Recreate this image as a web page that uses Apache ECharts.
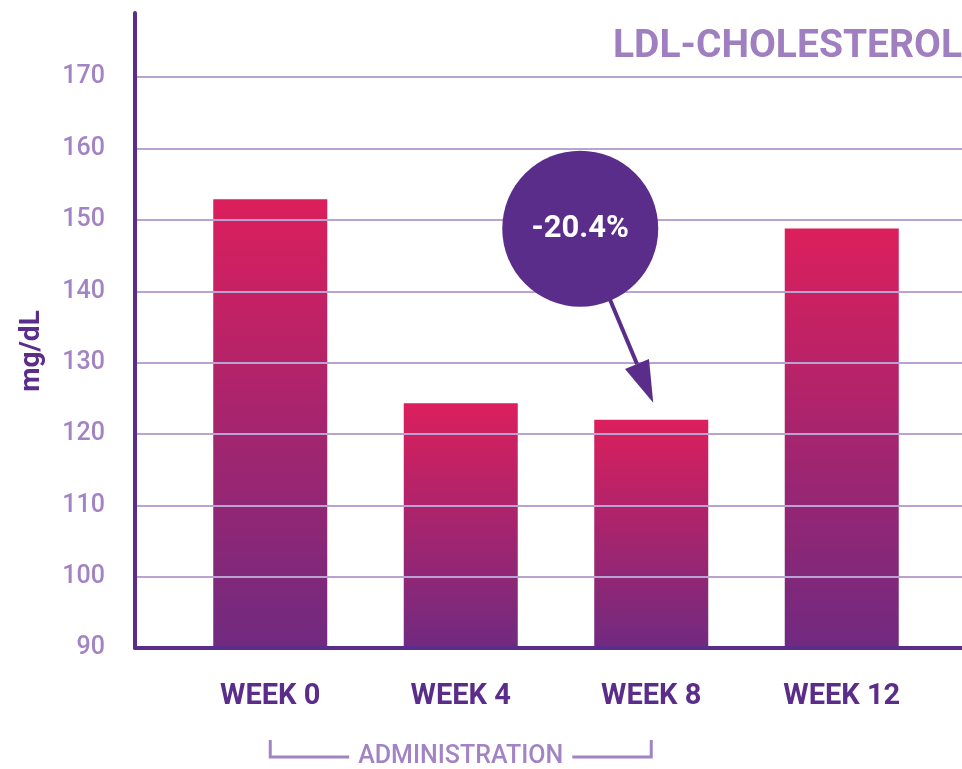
<!DOCTYPE html>
<html>
<head>
<meta charset="utf-8">
<script src="https://cdn.jsdelivr.net/npm/echarts@6.0.0/dist/echarts.min.js"></script>
<style>
  html, body { margin: 0; padding: 0; background: #fff; }
  #chart { width: 962px; height: 769px; }
</style>
</head>
<body>
<div id="chart"></div>
<script>
  // data
  var categories = ['WEEK 0', 'WEEK 4', 'WEEK 8', 'WEEK 12']
  var ldlValues = [152.9, 124.3, 122.0, 148.8]
  var yMin = 90
  var yMax = 179
  var yStep = 10
  var yName = 'mg/dL'
  var calloutText = '-20.4%'
  var calloutBar = 2
  var bracketText = 'ADMINISTRATION'
  var bracketRange = [0, 2]

  var dark = '#5b2d8a'
  var light = '#a283c3'
  var font = 'Roboto, "DejaVu Sans", sans-serif'

  var chart = echarts.init(document.getElementById('chart'))

  var option = {
    animation: false,
    title: {
      text: 'LDL-CHOLESTEROL',
      right: -5,
      top: 23,
      textStyle: {
        color: '#a07fc0',
        fontSize: 39,
        fontWeight: 'bold',
        fontFamily: font,
        letterSpacing: 0.8
      }
    },
    grid: [
      { left: 135, right: 0, top: 13, bottom: 121 },
      { left: 175, right: 25, top: 13, bottom: 121 }
    ],
    xAxis: [
      {
        gridIndex: 0,
        type: 'value',
        min: 0,
        max: 1,
        z: 5,
        axisLine: { show: true, lineStyle: { color: dark, width: 4, cap: 'round' } },
        axisTick: { show: false },
        axisLabel: { show: false },
        splitLine: { show: false }
      },
      {
        gridIndex: 1,
        type: 'category',
        data: categories,
        axisLine: { show: false },
        axisTick: { show: false },
        axisLabel: {
          margin: 34,
          color: dark,
          fontSize: 29,
          fontWeight: 'bold',
          fontFamily: font,
          letterSpacing: 1.5
        }
      }
    ],
    yAxis: [
      {
        gridIndex: 0,
        type: 'value',
        min: yMin,
        max: yMax,
        interval: yStep,
        z: 5,
        axisLine: { show: true, lineStyle: { color: dark, width: 4, cap: 'round' } },
        axisTick: { show: false },
        axisLabel: {
          margin: 30,
          color: light,
          fontSize: 25,
          fontWeight: 500,
          fontFamily: font,
          showMaxLabel: false
        },
        splitLine: {
          show: true,
          showMinLine: false,
          showMaxLine: false,
          lineStyle: { color: '#b9a3d2', width: 2 }
        }
      },
      {
        gridIndex: 1,
        type: 'value',
        min: yMin,
        max: yMax,
        show: false,
        splitLine: { show: false }
      }
    ],
    series: [
      {
        type: 'bar',
        xAxisIndex: 1,
        yAxisIndex: 1,
        barWidth: 114,
        data: ldlValues,
        itemStyle: {
          color: new echarts.graphic.LinearGradient(0, 0, 0, 1, [
            { offset: 0, color: '#dc1f5c' },
            { offset: 1, color: '#702a80' }
          ])
        }
      }
    ]
  }

  chart.setOption(option)

  // callout + bracket placed from the bar positions
  var tipBar = chart.convertToPixel({ gridIndex: 1 }, [categories[calloutBar], ldlValues[calloutBar]])
  var tip = [tipBar[0] + 2, tipBar[1] - 17]
  var center = [tip[0] - 73, tip[1] - 174]
  var dx = tip[0] - center[0]
  var dy = tip[1] - center[1]
  var len = Math.sqrt(dx * dx + dy * dy)
  var ux = dx / len, uy = dy / len
  var nx = uy, ny = -ux
  var base = [tip[0] - 42 * ux, tip[1] - 42 * uy]

  var left = chart.convertToPixel({ gridIndex: 1 }, [categories[bracketRange[0]], yMin])
  var right = chart.convertToPixel({ gridIndex: 1 }, [categories[bracketRange[1]], yMin])
  var by = left[1] + 109

  chart.setOption({
    graphic: [
      {
        type: 'text',
        x: 32,
        y: 351,
        rotation: Math.PI / 2,
        style: {
          text: yName,
          fill: dark,
          fontSize: 28,
          fontWeight: 'bold',
          fontFamily: font,
          align: 'center',
          verticalAlign: 'middle',
          letterSpacing: 1
        }
      },
      {
        type: 'line',
        z: 10,
        shape: { x1: center[0], y1: center[1], x2: base[0], y2: base[1] },
        style: { stroke: dark, lineWidth: 4 }
      },
      {
        type: 'polygon',
        z: 10,
        shape: {
          points: [
            tip,
            [base[0] + 13 * nx, base[1] + 13 * ny],
            [base[0] - 13 * nx, base[1] - 13 * ny]
          ]
        },
        style: { fill: dark }
      },
      {
        type: 'circle',
        z: 11,
        shape: { cx: center[0], cy: center[1], r: 78 },
        style: { fill: dark }
      },
      {
        type: 'text',
        z: 12,
        x: center[0],
        y: center[1] + 1,
        style: {
          text: calloutText,
          fill: '#fff',
          fontSize: 31,
          fontWeight: 'bold',
          fontFamily: font,
          align: 'center',
          verticalAlign: 'middle',
          letterSpacing: 2
        }
      },
      {
        type: 'polyline',
        z: 10,
        shape: { points: [[left[0], by - 17], [left[0], by], [right[0], by], [right[0], by - 17]] },
        style: { stroke: light, lineWidth: 3, fill: null }
      },
      {
        type: 'text',
        z: 12,
        x: (left[0] + right[0]) / 2,
        y: by,
        style: {
          text: bracketText,
          fill: light,
          fontSize: 25,
          fontWeight: 500,
          fontFamily: font,
          align: 'center',
          verticalAlign: 'middle',
          letterSpacing: 0.6,
          backgroundColor: '#fff',
          padding: [0, 9]
        }
      }
    ]
  })

  window.onresize = function() {
    chart.resize()
  }
</script>
</body>
</html>
